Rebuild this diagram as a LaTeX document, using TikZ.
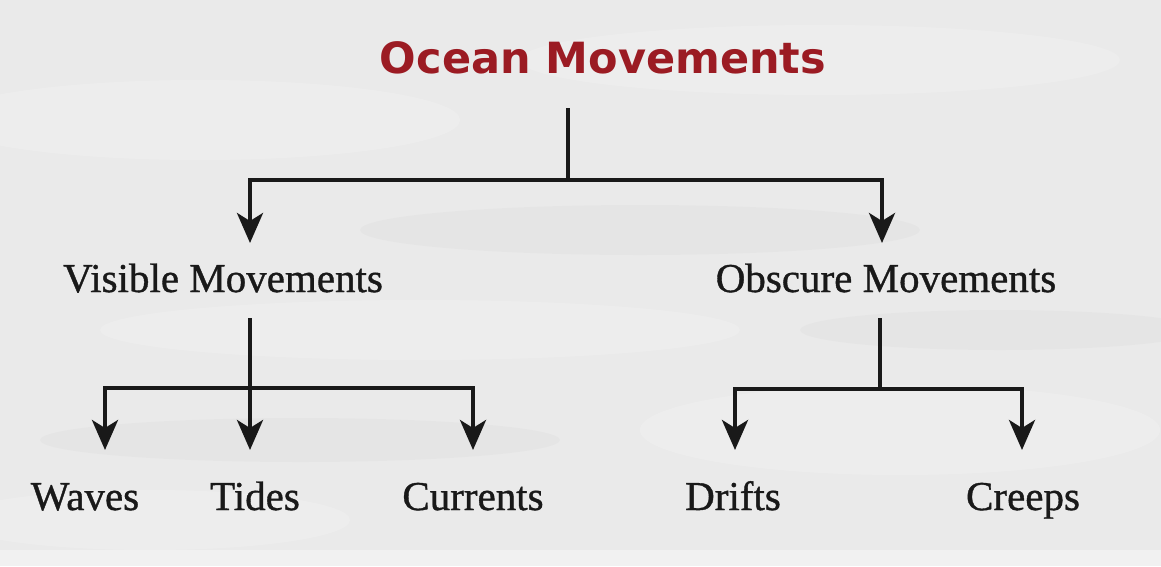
\documentclass[tikz,border=0pt]{standalone}
\usepackage{fontspec}
\setmainfont{Liberation Serif}
\newfontfamily\lblfont[FakeBold=0.9]{Liberation Serif}
\newfontfamily\titlefont{DejaVu Sans}
\usetikzlibrary{arrows.meta}
\definecolor{titlered}{RGB}{155,27,35}
\definecolor{ink}{RGB}{25,25,25}
\definecolor{paper}{RGB}{234,234,234}
\begin{document}
\begin{tikzpicture}[x=1pt,y=-1pt,
  lbl/.style={font=\lblfont\fontsize{41}{41}\selectfont, text=ink, inner sep=0pt, anchor=base},
  ttl/.style={font=\titlefont\bfseries\fontsize{43}{43}\selectfont, text=titlered, inner sep=0pt, anchor=base},
  conn/.style={draw=ink, line width=4pt},
  arr/.style={conn, -{Stealth[length=30pt,width=26pt,inset=8pt]}}]
\useasboundingbox (0,0) rectangle (1161,566);
% paper background
\fill[paper] (0,0) rectangle (1161,566);
\begin{scope}
\clip (0,0) rectangle (1161,566);
\fill[white,opacity=0.18] (200,120) ellipse (260 and 40);
\fill[white,opacity=0.15] (820,60) ellipse (300 and 35);
\fill[white,opacity=0.15] (420,330) ellipse (320 and 30);
\fill[white,opacity=0.18] (900,430) ellipse (260 and 45);
\fill[white,opacity=0.15] (150,520) ellipse (200 and 30);
\fill[gray,opacity=0.04] (640,230) ellipse (280 and 25);
\fill[gray,opacity=0.04] (300,440) ellipse (260 and 22);
\fill[gray,opacity=0.04] (1000,330) ellipse (200 and 20);
\fill[white,opacity=0.35] (0,550) rectangle (1161,566);
\end{scope}
% nodes
\node[ttl] (title) at (603,73) {Ocean Movements};
\node[lbl] (vis) at (223,292) {Visible Movements};
\node[lbl] (obs) at (886,292) {Obscure Movements};
\node[lbl] (waves) at (85,510) {Waves};
\node[lbl] (tides) at (255,510) {Tides};
\node[lbl] (curr) at (473,510) {Currents};
\node[lbl] (drifts) at (733,510) {Drifts};
\node[lbl] (creeps) at (1023,510) {Creeps};
% connector points
\coordinate (t0) at (568,108);
\coordinate (j1) at (568,180);
\coordinate (aVis) at (250,243);
\coordinate (aObs) at (882,243);
\coordinate (v0) at (250,318);
\coordinate (j2) at (250,388);
\coordinate (aWaves) at (105,450);
\coordinate (aTides) at (250,450);
\coordinate (aCurr) at (473,450);
\coordinate (o0) at (880,318);
\coordinate (j3) at (880,389);
\coordinate (aDrifts) at (735,450);
\coordinate (aCreeps) at (1022,450);
% connectors
\draw[conn] (t0) -- (j1);
\draw[arr] (j1) -| (aVis);
\draw[arr] (j1) -| (aObs);
\draw[conn] (v0) -- (j2);
\draw[arr] (j2) -| (aWaves);
\draw[arr] (j2) -- (aTides);
\draw[arr] (j2) -| (aCurr);
\draw[conn] (o0) -- (j3);
\draw[arr] (j3) -| (aDrifts);
\draw[arr] (j3) -| (aCreeps);
\end{tikzpicture}
\end{document}
